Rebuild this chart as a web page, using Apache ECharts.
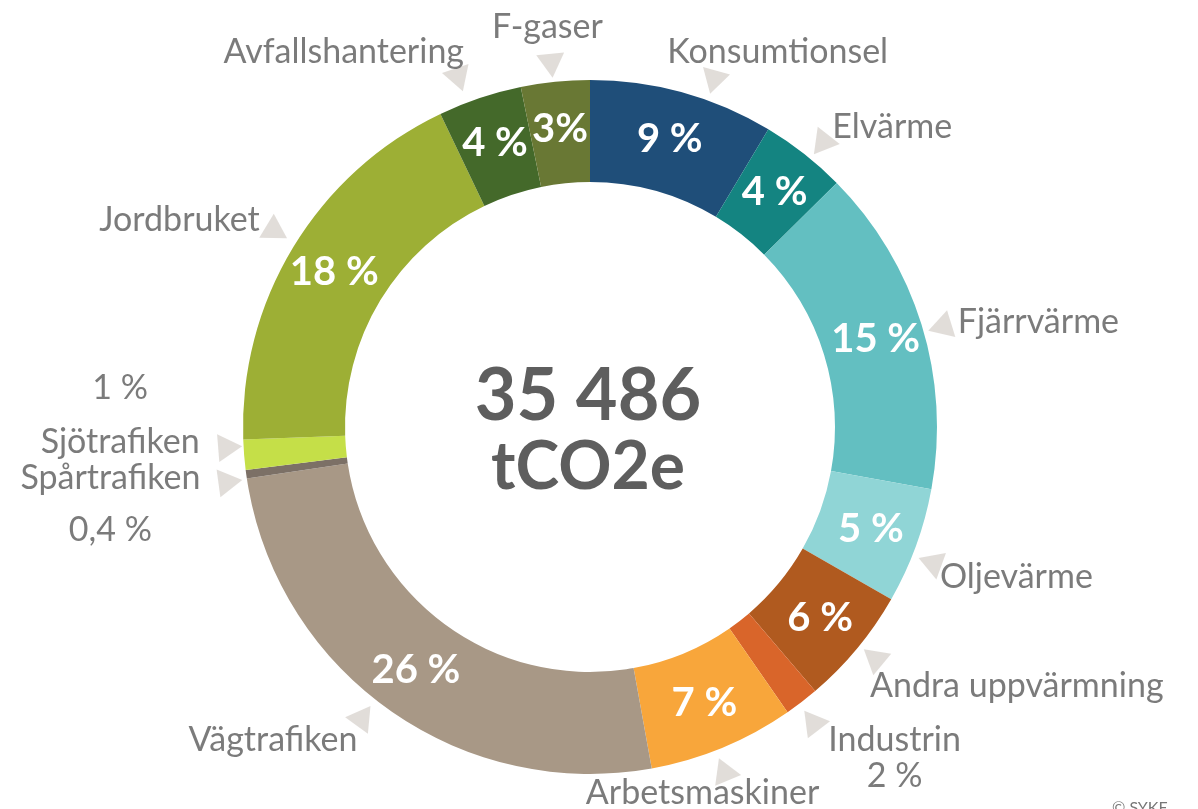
<!DOCTYPE html>
<html>
<head>
<meta charset="utf-8">
<script src="https://cdn.jsdelivr.net/npm/echarts@6/dist/echarts.min.js"></script>
<style>
  html, body { margin: 0; padding: 0; background: #fff; }
  #chart { width: 1198px; height: 809px; }
</style>
</head>
<body>
<div id="chart"></div>
<script>
// sektorer, medurs från kl 12 (andel i %)
var sectors = ['Konsumtionsel', 'Elvärme', 'Fjärrvärme', 'Oljevärme', 'Andra uppvärmning', 'Industrin',
  'Arbetsmaskiner', 'Vägtrafiken', 'Spårtrafiken', 'Sjötrafiken', 'Jordbruket', 'Avfallshantering', 'F-gaser'];
var shares = [8.6, 4.0, 15.3, 5.4, 5.5, 1.6, 6.8, 25.5, 0.4, 1.4, 18.5, 3.9, 3.2];
var innerLabels = ['9 %', '4 %', '15 %', '5 %', '6 %', '', '7 %', '26 %', '', '', '18 %', '4 %', '3%'];
var outerLabels = ['Konsumtionsel', 'Elvärme', 'Fjärrvärme', 'Oljevärme', 'Andra uppvärmning', 'Industrin\n2 %',
  'Arbetsmaskiner', 'Vägtrafiken', 'Spårtrafiken\n0,4 %', '1 %\nSjötrafiken', 'Jordbruket', 'Avfallshantering', 'F-gaser'];
var totalText = '35 486';
var unitText = 'tCO2e';

var colors = ['#1f4e79', '#148481', '#63bfc1', '#90d5d6', '#b05a1f', '#d9652a',
  '#f8a63b', '#a89886', '#7c7066', '#c5df48', '#9daf35', '#44692a', '#697834'];

// placering av yttre etiketter relativt pilen (stil)
var labelStyle = [
  { align: 'left', offset: [-20, -23] },
  { align: 'left', offset: [17, -13] },
  { align: 'left', offset: [19, 3] },
  { align: 'left', offset: [7, 25] },
  { align: 'left', offset: [-1, 26] },
  { align: 'center', offset: [82, 42], lineHeight: 36 },
  { align: 'center', offset: [-27, 29] },
  { align: 'right', offset: [-20, 16] },
  { align: 'center', offset: [-118, 27], lineHeight: 52 },
  { align: 'center', offset: [-106, -41], lineHeight: 54 },
  { align: 'right', offset: [-18, -18] },
  { align: 'right', offset: [-10, -29] },
  { align: 'center', offset: [-6, -37] }
];
var arrowShift = [[26, 7], [6, 5], [1, 8], [-3, 10], [2, -3], [-1, 4], [-6, 5], [-14, -8],
  [2, 5], [4, -9], [-1, -6], [-15, -1], [-2, 2]];

var total = shares.reduce(function (a, b) { return a + b; }, 0);
var mids = [];
var acc = 0;
shares.forEach(function (v) { mids.push(acc + v / 2); acc += v; });

var font = 'Lato, "Open Sans", sans-serif';
var textColor = '#5a5a5a';
var arrowR = 365;

var chart = echarts.init(document.getElementById('chart'));
chart.setOption({
  animation: false,
  polar: { center: [590, 427], radius: [0, 420] },
  angleAxis: { type: 'value', min: 0, max: total, startAngle: 90, clockwise: true, show: false },
  radiusAxis: { type: 'value', min: 0, max: 420, show: false },
  series: [
    {
      type: 'pie',
      center: [590, 427],
      radius: [245, 347],
      startAngle: 90,
      clockwise: true,
      avoidLabelOverlap: false,
      data: sectors.map(function (n, i) {
        return { name: n, value: shares[i], itemStyle: { color: colors[i] } };
      }),
      label: {
        show: true,
        position: 'inside',
        formatter: function (p) { return innerLabels[p.dataIndex]; },
        color: '#fff',
        fontFamily: font,
        fontWeight: 'bold',
        fontSize: 40
      },
      labelLine: { show: false },
      emphasis: { disabled: true }
    },
    {
      type: 'scatter',
      coordinateSystem: 'polar',
      clip: false,
      symbol: 'triangle',
      symbolSize: [28, 24],
      silent: true,
      itemStyle: { color: '#d9d5d0' },
      data: mids.map(function (m, i) {
        var deg = m / total * 360;
        return {
          value: [arrowR, m],
          symbolRotate: -(deg + 180),
          symbolOffset: arrowShift[i]
        };
      })
    },
    {
      type: 'scatter',
      coordinateSystem: 'polar',
      clip: false,
      symbolSize: 1,
      silent: true,
      itemStyle: { color: 'rgba(0,0,0,0)' },
      data: mids.map(function (m, i) {
        var s = labelStyle[i];
        return {
          value: [arrowR, m],
          label: {
            show: true,
            position: 'inside',
            formatter: outerLabels[i],
            align: s.align,
            verticalAlign: 'middle',
            offset: s.offset,
            lineHeight: s.lineHeight || 36,
            color: textColor,
            fontFamily: font,
            fontSize: 34
          }
        };
      })
    }
  ],
  graphic: [
    {
      type: 'text', x: 588, y: 397,
      style: { text: totalText, font: 'bold 72px ' + font, fill: '#5e5e5e', align: 'center', verticalAlign: 'middle' }
    },
    {
      type: 'text', x: 588, y: 468,
      style: { text: unitText, font: 'bold 66px ' + font, fill: '#5e5e5e', align: 'center', verticalAlign: 'middle' }
    },
    {
      type: 'text', x: 1112, y: 800,
      style: { text: '© SYKE', font: '16px ' + font, fill: '#777', align: 'left', verticalAlign: 'top' }
    }
  ]
});
</script>
</body>
</html>
